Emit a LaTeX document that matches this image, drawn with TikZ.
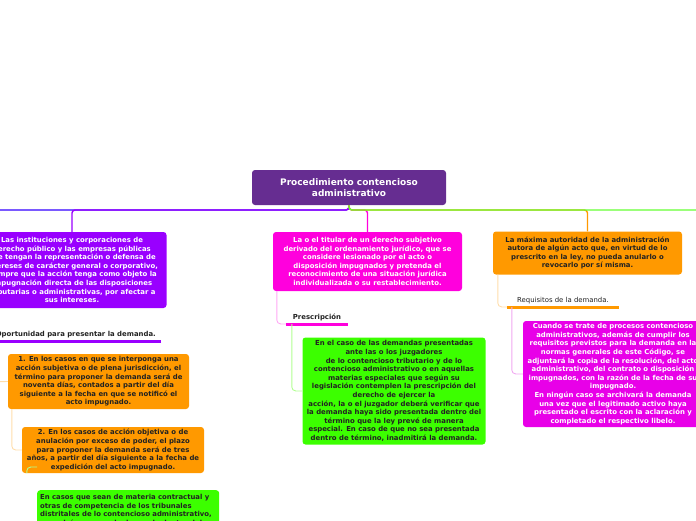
\documentclass[tikz,border=0pt]{standalone}
\usepackage{fontspec}
\setmainfont{DejaVu Sans}
\definecolor{rootc}{HTML}{662D91}
\definecolor{purp}{HTML}{9900FF}
\definecolor{blu}{HTML}{3300FF}
\definecolor{grn}{HTML}{66FF33}
\definecolor{boxgrn}{HTML}{3CFF00}
\definecolor{org}{HTML}{FF9900}
\definecolor{mag}{HTML}{FF00DD}
\definecolor{mag2}{HTML}{E800E8}
\definecolor{lorg}{HTML}{FFDDAA}
\definecolor{lgrn}{HTML}{B0FF90}
\definecolor{lpink}{HTML}{FFA8F4}
\definecolor{llil}{HTML}{F0A8F0}
\definecolor{txt}{HTML}{222222}
\begin{document}
\begin{tikzpicture}[x=1pt,y=-1pt,
  box/.style={rounded corners=3pt, draw=none, align=center, inner sep=0pt,
    font=\bfseries\fontsize{6.9}{8.6}\selectfont},
  wbox/.style={box, text=white},
  kbox/.style={box, text=txt},
  mainline/.style={line width=1.4pt, rounded corners=3pt},
  subline/.style={line width=0.9pt, rounded corners=4pt},
  lab/.style={inner xsep=5pt, inner ysep=3pt, text=txt},
  ul/.style={line width=3pt}
]
\useasboundingbox (0,0) rectangle (696,520);

% nodes
\node[box, fill=rootc, text=white, minimum width=194pt, minimum height=35pt,
  font=\bfseries\fontsize{9}{11.5}\selectfont] (root) at (349,187.5)
  {Procedimiento contencioso\\administrativo};

\node[wbox, fill=purp, minimum width=189pt, minimum height=76pt] (b1) at (72,270)
  {Las instituciones y corporaciones de\\derecho público y las empresas públicas\\que tengan la representación o defensa de\\intereses de carácter general o corporativo,\\siempre que la acción tenga como objeto la\\impugnación directa de las disposiciones\\tributarias o administrativas, por afectar a\\sus intereses.};

\node[wbox, fill=mag, minimum width=189pt, minimum height=59pt] (b2) at (367.5,261.5)
  {La o el titular de un derecho subjetivo\\derivado del ordenamiento jurídico, que se\\considere lesionado por el acto o\\disposición impugnados y pretenda el\\reconocimiento de una situación jurídica\\individualizada o su restablecimiento.};

\node[kbox, fill=org, minimum width=189pt, minimum height=43pt] (b3) at (587.5,253)
  {La máxima autoridad de la administración\\autora de algún acto que, en virtud de lo\\prescrito en la ley, no pueda anularlo o\\revocarlo por sí misma.};

\node[lab, anchor=south east, font=\bfseries\fontsize{6.9}{8}\selectfont] (oport) at (161,341)
  {Oportunidad para presentar la demanda.};

\node[kbox, fill=org, minimum width=181pt, minimum height=55pt] (b1a) at (98.5,381.5)
  {1. En los casos en que se interponga una\\acción subjetiva o de plena jurisdicción, el\\término para proponer la demanda será de\\noventa días, contados a partir del día\\siguiente a la fecha en que se notificó el\\acto impugnado.};

\node[kbox, fill=org, minimum width=182pt, minimum height=46pt] (b1b) at (113,450)
  {2. En los casos de acción objetiva o de\\anulación por exceso de poder, el plazo\\para proponer la demanda será de tres\\años, a partir del día siguiente a la fecha de\\expedición del acto impugnado.};

\node[kbox, fill=boxgrn, align=left, anchor=north west, minimum width=182pt,
  text width=176pt, inner xsep=3pt, inner ysep=4pt] (b1c) at (37,490)
  {En casos que sean de materia contractual y\\otras de competencia de los tribunales\\distritales de lo contencioso administrativo,\\se podrá proponer la demanda dentro del plazo\\de cinco años.};

\node[lab, anchor=south, minimum width=62pt, font=\bfseries\fontsize{6.9}{8}\selectfont] (presc) at (317,324)
  {Prescripción};

\node[kbox, fill=boxgrn, minimum width=183pt, minimum height=107pt] (b2a) at (394,391)
  {En el caso de las demandas presentadas\\ante las o los juzgadores\\de lo contencioso tributario y de lo\\contencioso administrativo o en aquellas\\materias especiales que según su\\legislación contemplen la prescripción del\\derecho de ejercer la\\acción, la o el juzgador deberá verificar que\\la demanda haya sido presentada dentro del\\término que la ley prevé de manera\\especial. En caso de que no sea presentada\\dentro de término, inadmitirá la demanda.};

\node[lab, anchor=south, minimum width=112pt, font=\fontsize{6.9}{8}\selectfont] (requi) at (563,307)
  {Requisitos de la demanda.};

\node[wbox, fill=mag2, minimum width=180pt, minimum height=106pt] (b3a) at (613,374)
  {Cuando se trate de procesos contencioso\\administrativos, además de cumplir los\\requisitos previstos para la demanda en la\\normas generales de este Código, se\\adjuntará la copia de la resolución, del acto\\administrativo, del contrato o disposición\\impugnados, con la razón de la fecha de su\\impugnado.\\En ningún caso se archivará la demanda\\una vez que el legitimado activo haya\\presentado el escrito con la aclaración y\\completado el respectivo libelo.};

% off-screen ends
\coordinate (offL) at (-20,210);
\coordinate (offR) at (716,210);
\coordinate (offB1) at (-20,382);

% main connectors
\draw[mainline, blu] (root.south) -- (349,210) -- (offL);
\draw[mainline, purp] (root.south) |- (b1.north |- 0,210) -- (b1.north);
\draw[mainline, mag] (root.south) |- (b2.north |- 0,210) -- (b2.north);
\draw[mainline, org] (root.south) |- (b3.north |- 0,210) -- (b3.north);
\draw[mainline, grn] (root.south) |- (offR);

% underlines
\draw[ul, purp] (oport.south east) -- ([xshift=-20pt]oport.south west);
\draw[ul, mag] (presc.south west) -- (presc.south east);
\draw[ul, org] (requi.south west) -- (requi.south east);

% sub connectors
\draw[subline, lorg] (offB1) -- (b1a.west);
\draw[subline, lorg] ([xshift=4pt]b1a.south west) |- (b1b.west);
\draw[subline, lgrn] ([xshift=5pt]b1b.south west) |- ([yshift=23pt]b1c.north west);
\draw[subline, lpink] ([xshift=4pt]b2.south west) |- (presc.south west);
\draw[subline, lgrn] ([xshift=6pt]presc.south west) |- (b2a.west);
\draw[subline, lorg] ([xshift=5pt]b3.south west) |- (requi.south west);
\draw[subline, llil] ([xshift=5pt]requi.south west) |- (b3a.west);
\end{tikzpicture}
\end{document}
